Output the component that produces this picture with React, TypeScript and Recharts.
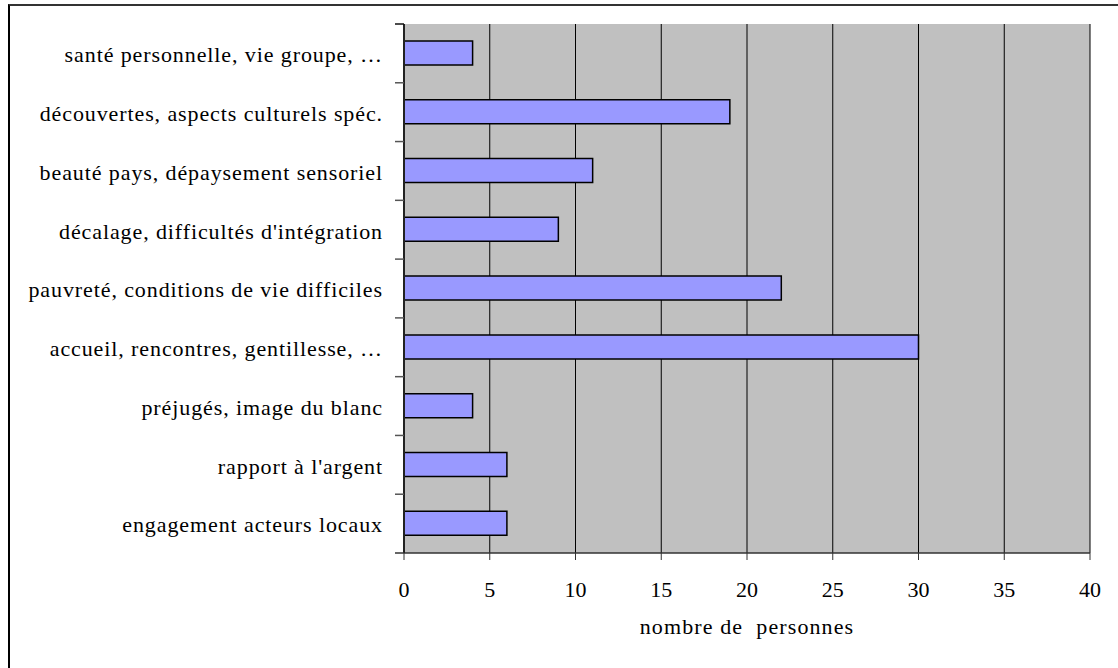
import React from "react";
import { BarChart, Bar, XAxis, YAxis, CartesianGrid, Label } from "recharts";

const categories = [
  "santé personnelle, vie groupe, …",
  "découvertes, aspects culturels spéc.",
  "beauté pays, dépaysement sensoriel",
  "décalage, difficultés d'intégration",
  "pauvreté, conditions de vie difficiles",
  "accueil, rencontres, gentillesse, …",
  "préjugés, image du blanc",
  "rapport à l'argent",
  "engagement acteurs locaux",
];
const values = [4, 19, 11, 9, 22, 30, 4, 6, 6];
const xTicks = [0, 5, 10, 15, 20, 25, 30, 35, 40];
const axisTitle = "nombre de  personnes";

const data = categories.map((c, i) => ({ cat: c, n: values[i] }));

const FONT = "'Liberation Serif', 'Times New Roman', Times, serif";

const W = 1118;
const H = 668;
const M = { top: 24, right: 28, left: 0, bottom: 0 };
const XAXIS_H = 115;
const YAXIS_W = 404;
const HALF_BAND_FALLBACK = (H - M.top - M.bottom - XAXIS_H) / categories.length / 2;

const CatTick = (props: any) => {
  const { x, y, payload, index } = props;
  const half =
    payload && typeof payload.offset === "number" && payload.offset > 0
      ? payload.offset
      : HALF_BAND_FALLBACK;
  const axisX = x + 21;
  return (
    <g>
      <line
        x1={axisX - 9}
        x2={axisX}
        y1={y - half}
        y2={y - half}
        stroke={index === 0 ? "#111" : "#555"}
        strokeWidth={1.5}
      />
      {index === categories.length - 1 && (
        <line x1={axisX - 9} x2={axisX} y1={y + half} y2={y + half} stroke="#333" strokeWidth={1.5} />
      )}
      <text
        x={x}
        y={y}
        dy="0.4em"
        textAnchor="end"
        fill="#000"
        style={{ fontFamily: FONT, fontSize: 22, letterSpacing: "0.9px" }}
      >
        {payload.value}
      </text>
    </g>
  );
};

const NumTick = (props: any) => {
  const { x, y, payload } = props;
  return (
    <text
      x={x}
      y={y}
      dy="0.35em"
      textAnchor="middle"
      fill="#000"
      style={{ fontFamily: FONT, fontSize: 22 }}
    >
      {payload.value}
    </text>
  );
};

const TitleLabel = (props: any) => {
  const vb = props.viewBox || {};
  return (
    <text
      x={vb.x + vb.width / 2}
      y={vb.y + 73}
      dy="0.35em"
      textAnchor="middle"
      fill="#000"
      style={{ fontFamily: FONT, fontSize: 22, letterSpacing: "1.1px", whiteSpace: "pre" }}
    >
      {axisTitle}
    </text>
  );
};

export default function App() {
  return (
    <div
      style={{
        position: "fixed",
        left: 0,
        top: 0,
        width: W,
        height: H,
        overflow: "hidden",
        background: "#fff",
        fontFamily: FONT,
      }}
    >
      <div
        style={{
          position: "absolute",
          left: 8,
          top: 4,
          width: 1300,
          height: 900,
          borderLeft: "2px solid #000",
          borderTop: "2px solid #333",
        }}
      />
      <div style={{ position: "absolute", left: 0, top: 0 }}>
        <BarChart
          layout="vertical"
          width={W}
          height={H}
          data={data}
          margin={M}
          barSize={24}
        >
          <CartesianGrid
            vertical={true}
            horizontal={false}
            fill="#C0C0C0"
            fillOpacity={1}
            stroke="#000"
            strokeWidth={1}
            xAxisId="x"
            yAxisId="cat"
          />
          <XAxis
            xAxisId="x"
            type="number"
            dataKey="n"
            domain={[0, 40]}
            ticks={xTicks}
            interval={0}
            allowDataOverflow
            height={XAXIS_H}
            tickSize={7}
            tickMargin={29}
            axisLine={{ stroke: "#333", strokeWidth: 1.5 }}
            tickLine={{ stroke: "#333" }}
            tick={<NumTick />}
          >
            <Label content={<TitleLabel />} position="insideBottom" />
          </XAxis>
          <XAxis
            xAxisId="top"
            orientation="top"
            type="number"
            domain={[0, 40]}
            height={0}
            tick={false}
            tickLine={false}
            axisLine={{ stroke: "#888", strokeWidth: 2 }}
          />
          <YAxis
            yAxisId="cat"
            type="category"
            dataKey="cat"
            width={YAXIS_W}
            tickLine={false}
            axisLine={{ stroke: "#222", strokeWidth: 2 }}
            tickSize={8}
            tickMargin={13}
            interval={0}
            tick={<CatTick />}
          />
          <YAxis
            yAxisId="right"
            orientation="right"
            type="number"
            domain={[0, 9]}
            width={0}
            tick={false}
            tickLine={false}
            axisLine={{ stroke: "#888", strokeWidth: 2 }}
          />
          <Bar
            dataKey="n"
            xAxisId="x"
            yAxisId="cat"
            fill="#9999FF"
            stroke="#000"
            strokeWidth={1.5}
            isAnimationActive={false}
          />
        </BarChart>
      </div>
    </div>
  );
}
